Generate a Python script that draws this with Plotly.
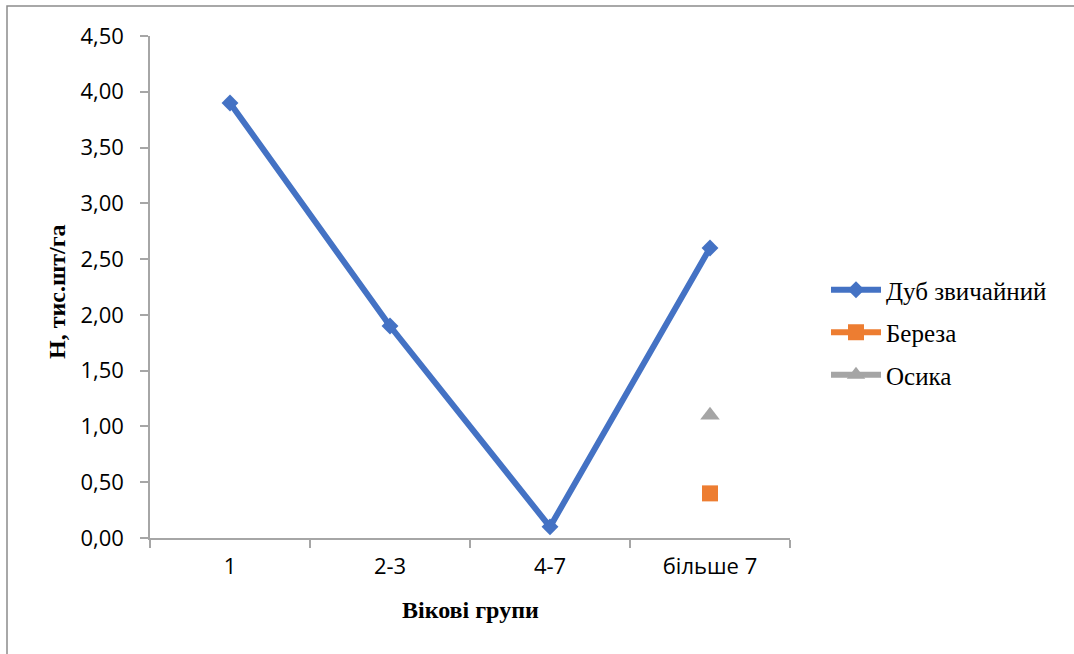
import plotly.graph_objects as go

# Age groups and stand density (thousand trees per ha)
age_groups = ["1", "2-3", "4-7", "більше 7"]
oak = [3.9, 1.9, 0.1, 2.6]
birch = [None, None, None, 0.4]
aspen = [None, None, None, 1.1]

W, H = 1074, 654
L, R, T, B = 150, 284, 36, 116
pw, ph = W - L - R, H - T - B

fig = go.Figure()
fig.add_trace(go.Scatter(
    x=age_groups, y=oak, name="Дуб звичайний", mode="lines+markers",
    legendgroup="oak",
    line=dict(color="#4472C4", width=6),
    marker=dict(symbol="diamond", size=13, color="#4472C4"),
))
fig.add_trace(go.Scatter(
    x=age_groups, y=birch, name="Береза", mode="lines+markers",
    legendgroup="birch",
    line=dict(color="#ED7D31", width=6),
    marker=dict(symbol="square", size=16, color="#ED7D31"),
))
fig.add_trace(go.Scatter(
    x=age_groups, y=aspen, name="Осика", mode="lines+markers",
    legendgroup="aspen",
    line=dict(color="#A5A5A5", width=6),
    marker=dict(symbol="triangle-up", size=17, color="#A5A5A5"),
))

axis_color = "#A6A6A6"
tick_font = dict(family="Open Sans", size=22, color="#000000")
title_font = dict(family="Liberation Serif", size=24, color="#000000")

fig.update_xaxes(
    type="category", range=[-0.5, 3.5], showgrid=False, zeroline=False,
    showline=True, linecolor=axis_color, linewidth=1.5,
    ticks="outside", tickson="boundaries", ticklen=8, tickcolor=axis_color,
    tickwidth=1.5, tickfont=tick_font, ticklabelstandoff=8,
)
fig.update_yaxes(
    range=[0, 4.5], dtick=0.5, tickformat=".2f", showgrid=False,
    zeroline=False, showline=True, linecolor=axis_color, linewidth=1.5,
    ticks="outside", ticklen=8, tickcolor=axis_color, tickwidth=1.5,
    tickfont=tick_font, ticklabelstandoff=12,
)

fig.update_layout(
    width=W, height=H,
    margin=dict(l=L, r=R, t=T, b=B, autoexpand=False),
    separators=", ",
    paper_bgcolor="white", plot_bgcolor="white",
    showlegend=True,
    legend=dict(
        x=(826 - L) / pw, y=(538 - 267) / ph, xanchor="left", yanchor="top",
        font=dict(family="Liberation Serif", size=25, color="#000000"),
        itemwidth=50, tracegroupgap=7, bgcolor="rgba(0,0,0,0)",
    ),
    annotations=[
        dict(text="<b>Вікові групи</b>", xref="paper", yref="paper",
             x=0.5, y=(538 - 610) / ph, xanchor="center", yanchor="middle",
             showarrow=False, font=title_font),
        dict(text="<b>Н, тис.шт/га</b>", xref="paper", yref="paper",
             x=(57 - L) / pw, y=(538 - 292) / ph, xanchor="center",
             yanchor="middle", textangle=-90, showarrow=False, font=title_font),
    ],
    shapes=[
        dict(type="rect", xref="paper", yref="paper",
             x0=(7 - L) / pw, x1=1.6, y0=-0.4, y1=(538 - 6) / ph,
             line=dict(color="#8C8C8C", width=1.5), fillcolor="rgba(0,0,0,0)",
             layer="below"),
    ],
)

fig.write_html("out.html")
